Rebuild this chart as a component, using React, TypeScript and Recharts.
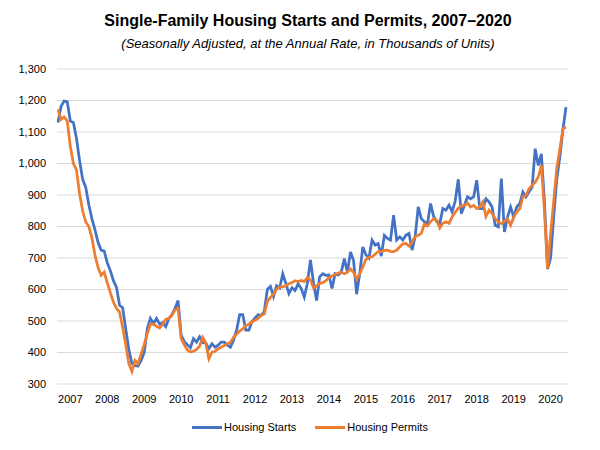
import { CartesianGrid, Line, LineChart, XAxis, YAxis } from "recharts";

// Monthly, Jan 2007 – Oct 2020, SAAR in thousands of units
const housingStarts = [
  1130, 1182, 1198, 1196, 1135, 1130, 1080, 1010, 950, 925, 870, 825,
  790, 750, 725, 722, 685, 660, 628, 607, 550, 542, 475, 410,
  365, 358, 357, 375, 400, 475, 508, 492, 508, 490, 495, 482,
  508, 520, 540, 565, 455, 435, 425, 415, 444, 433, 450, 432,
  430, 412, 428, 417, 423, 433, 433, 423, 417, 439, 470, 520,
  520, 471, 471, 498, 510, 520, 518, 530, 600, 610, 578, 612,
  605, 650, 620, 587, 606, 597, 618, 603, 576, 620, 694, 620,
  565, 640, 650, 645, 646, 603, 650, 646, 655, 698, 655, 719,
  692, 585, 650, 735, 710, 700, 757, 741, 746, 706, 772, 762,
  757, 836, 757, 767, 757, 772, 778, 725, 767, 862, 825, 815,
  808, 873, 832, 815, 810, 857, 852, 868, 847, 880, 950, 841,
  867, 894, 888, 894, 947, 857, 857, 888, 878, 862, 804, 799,
  952, 783, 830, 862, 830, 862, 873, 910, 894, 910, 925, 1047,
  994, 1031, 880, 665, 700, 830, 950, 1020, 1108, 1179,
];

const housingPermits = [
  1172, 1140, 1148, 1135, 1055, 1000, 980, 905, 850, 815, 800, 765,
  710, 670, 645, 655, 622, 590, 560, 540, 528, 480, 425, 365,
  340, 375, 365, 395, 425, 460, 490, 490, 483, 478, 490, 505,
  508, 518, 535, 540, 445, 425, 408, 402, 404, 410, 420, 448,
  430, 380, 401, 404, 412, 417, 422, 428, 432, 448, 458, 468,
  475, 485, 490, 498, 502, 508, 518, 522, 562, 575, 585, 600,
  608, 608, 612, 618, 622, 628, 625, 629, 625, 638, 630, 605,
  612, 618, 622, 628, 638, 643, 647, 652, 655, 650, 655, 665,
  655, 632, 650, 672, 695, 702, 704, 712, 720, 720, 724, 725,
  721, 720, 725, 735, 745, 746, 738, 750, 768, 772, 778, 808,
  802, 815, 825, 820, 795, 810, 815, 810, 830, 845, 858, 865,
  867, 875, 862, 867, 857, 862, 878, 832, 852, 841, 825, 815,
  809, 815, 825, 804, 830, 846, 857, 894, 899, 920, 931, 941,
  957, 994, 850, 667, 775, 880, 984, 1045, 1110, 1116,
];

const firstYear = 2007;
const years = [2007, 2008, 2009, 2010, 2011, 2012, 2013, 2014, 2015, 2016, 2017, 2018, 2019, 2020];
const yTicks = [300, 400, 500, 600, 700, 800, 900, 1000, 1100, 1200, 1300];

const data = housingStarts.map((s, i) => ({
  i,
  starts: s,
  permits: housingPermits[i],
}));

// year labels sit a few months into each year, like the Excel date axis
const xTicks = years.map((y) => (y - firstYear) * 12 + 4);

const font = "'Liberation Sans', Arial, sans-serif";
const BLUE = "#4472C4";
const ORANGE = "#ED7D31";

export default function App() {
  return (
    <div
      style={{
        position: "absolute",
        left: 0,
        top: 0,
        width: 600,
        height: 450,
        background: "#fff",
        fontFamily: font,
      }}
    >
      <div
        style={{
          position: "absolute",
          top: 12,
          left: 0,
          width: 616,
          textAlign: "center",
          fontWeight: "bold",
          fontSize: 16,
          color: "#000",
        }}
      >
        Single-Family Housing Starts and Permits, 2007–2020
      </div>
      <div
        style={{
          position: "absolute",
          top: 36,
          left: 0,
          width: 616,
          textAlign: "center",
          fontStyle: "italic",
          fontSize: 13,
          color: "#000",
        }}
      >
        (Seasonally Adjusted, at the Annual Rate, in Thousands of Units)
      </div>

      <LineChart
        width={600}
        height={450}
        data={data}
        margin={{ top: 69, right: 32, bottom: 36, left: 0 }}
      >
        <CartesianGrid vertical={false} stroke="#d9d9d9" />
        <XAxis
          dataKey="i"
          type="number"
          domain={[0, housingStarts.length - 1]}
          ticks={xTicks}
          tickFormatter={(v: number) => String(firstYear + Math.floor(v / 12))}
          axisLine={false}
          tickLine={false}
          tickMargin={5}
          height={30}
          padding={{ left: 1, right: 2 }}
          tick={{ fontSize: 11, fill: "#000", fontFamily: font }}
          interval={0}
        />
        <YAxis
          domain={[300, 1300]}
          ticks={yTicks}
          tickFormatter={(v: number) => v.toLocaleString("en-US")}
          axisLine={false}
          tickLine={false}
          tickMargin={5}
          width={57}
          tick={{ fontSize: 11, fill: "#000", fontFamily: font }}
        />
        <Line
          type="linear"
          dataKey="starts"
          stroke={BLUE}
          strokeWidth={2.75}
          dot={false}
          isAnimationActive={false}
        />
        <Line
          type="linear"
          dataKey="permits"
          stroke={ORANGE}
          strokeWidth={2.75}
          dot={false}
          isAnimationActive={false}
        />
      </LineChart>

      <div
        style={{
          position: "absolute",
          top: 421,
          left: 0,
          width: 620,
          display: "flex",
          justifyContent: "center",
          alignItems: "center",
          fontSize: 11,
          color: "#000",
        }}
      >
        <span style={{ display: "inline-block", width: 30, height: 3, background: BLUE }} />
        <span style={{ marginLeft: 2, marginRight: 19 }}>Housing Starts</span>
        <span style={{ display: "inline-block", width: 30, height: 3, background: ORANGE }} />
        <span style={{ marginLeft: 2 }}>Housing Permits</span>
      </div>
    </div>
  );
}
